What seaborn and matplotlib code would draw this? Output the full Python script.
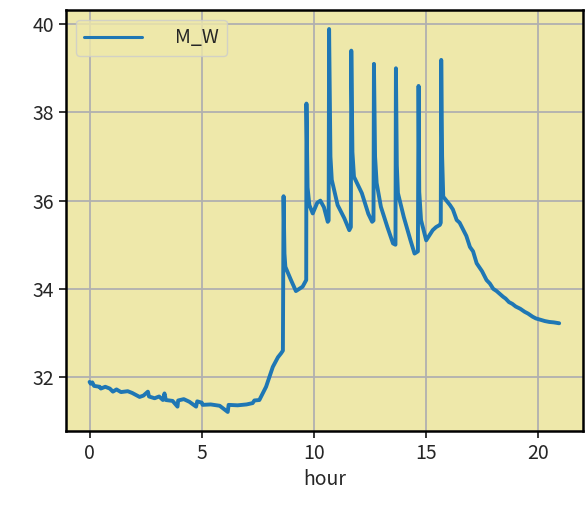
import pandas as pd
import numpy as np
import matplotlib
matplotlib.use("Agg")
import matplotlib.pyplot as plt
import seaborn as sns

# values
hours = [0.00, 0.05, 0.12, 0.20, 0.45, 0.50, 0.70, 0.90, 1.04, 1.20, 1.40, 1.70, 1.90,
         2.05, 2.23, 2.40, 2.60, 2.65, 2.90, 3.10, 3.27, 3.34, 3.40, 3.70, 3.92, 3.95,
         4.20, 4.45, 4.75, 4.80, 5.00, 5.04, 5.40, 5.80, 6.16, 6.20, 6.60, 7.00, 7.27,
         7.35, 7.57, 7.87, 8.17, 8.40, 8.54, 8.62, 8.65, 8.69, 8.73, 8.98, 9.20, 9.50,
         9.62, 9.66, 9.67, 9.72, 9.80, 9.95, 10.15, 10.29, 10.45, 10.62, 10.66, 10.68,
         10.74, 10.80, 11.06, 11.36, 11.58, 11.65, 11.67, 11.72, 11.79, 12.14, 12.43,
         12.60, 12.66, 12.68, 12.73, 12.80, 12.99, 13.28, 13.53, 13.64, 13.66, 13.70,
         13.75, 14.01, 14.31, 14.49, 14.64, 14.67, 14.70, 14.78, 15.01, 15.20, 15.30,
         15.45, 15.62, 15.66, 15.68, 15.72, 15.77, 16.07, 16.20, 16.37, 16.50, 16.67,
         16.80, 16.96, 17.10, 17.26, 17.50, 17.70, 17.85, 18.00, 18.15, 18.26, 18.44,
         18.55, 18.70, 18.85, 19.00, 19.20, 19.40, 19.55, 19.75, 19.90, 20.10, 20.30,
         20.50, 20.70, 20.94]
m_w = [31.89, 31.85, 31.88, 31.80, 31.78, 31.74, 31.78, 31.74, 31.67, 31.72, 31.66, 31.68, 31.64,
       31.60, 31.55, 31.58, 31.67, 31.56, 31.52, 31.56, 31.48, 31.63, 31.48, 31.46, 31.33, 31.47,
       31.50, 31.44, 31.33, 31.45, 31.42, 31.37, 31.38, 31.35, 31.21, 31.37, 31.36, 31.38, 31.41,
       31.47, 31.48, 31.78, 32.23, 32.45, 32.54, 32.60, 36.10, 34.80, 34.50, 34.20, 33.95, 34.05,
       34.16, 34.20, 38.20, 36.30, 35.90, 35.71, 35.95, 36.00, 35.85, 35.52, 35.55, 39.89,
       37.00, 36.47, 35.90, 35.60, 35.33, 35.40, 39.40, 37.10, 36.54, 36.17, 35.70,
       35.52, 35.55, 39.10, 37.00, 36.40, 35.86, 35.40, 35.03, 35.00, 39.00, 36.80,
       36.17, 35.63, 35.10, 34.80, 34.85, 38.60, 36.20, 35.56, 35.10, 35.25, 35.33,
       35.40, 35.45, 35.50, 39.19, 37.00, 36.09, 35.90, 35.80, 35.56, 35.50, 35.33,
       35.20, 34.95, 34.85, 34.58, 34.40, 34.20, 34.12, 34.00, 33.95, 33.90, 33.82,
       33.78, 33.70, 33.66, 33.60, 33.55, 33.48, 33.44, 33.37, 33.33, 33.30, 33.27,
       33.25, 33.24, 33.22]

df = pd.DataFrame({'hour': hours, 'M_W': m_w})

sns.set_style("ticks", {
    'axes.facecolor': 'palegoldenrod',
    'axes.edgecolor': 'black',
    'axes.grid': True,
    'grid.color': '#b0b0b0',
})
plt.rcParams['font.family'] = ['Noto Sans CJK JP', 'DejaVu Sans']
plt.rcParams['font.size'] = 14

fig, ax = plt.subplots(figsize=(5.85, 5.2), dpi=100)
sns.lineplot(data=df, x='hour', y='M_W', ax=ax, color='#1f77b4', linewidth=2.8,
             label='M_W', estimator=None)

ax.grid(True, color='#b0b0b0', linewidth=1.3)
for s in ax.spines.values():
    s.set_linewidth(1.8)
ax.tick_params(labelsize=14, width=1.3, length=5)
ax.set_xticks([0, 5, 10, 15, 20])
ax.set_yticks([32, 34, 36, 38, 40])
ax.set_xlabel('hour', fontsize=14)
ax.set_ylabel('')
leg = ax.legend(loc='upper left', handlelength=3, handletextpad=1.7, fontsize=14)
for h in leg.get_lines():
    h.set_linewidth(2.2)

fig.subplots_adjust(left=0.113, right=0.996, top=0.981, bottom=0.171)
plt.savefig('out.png', dpi=100)
